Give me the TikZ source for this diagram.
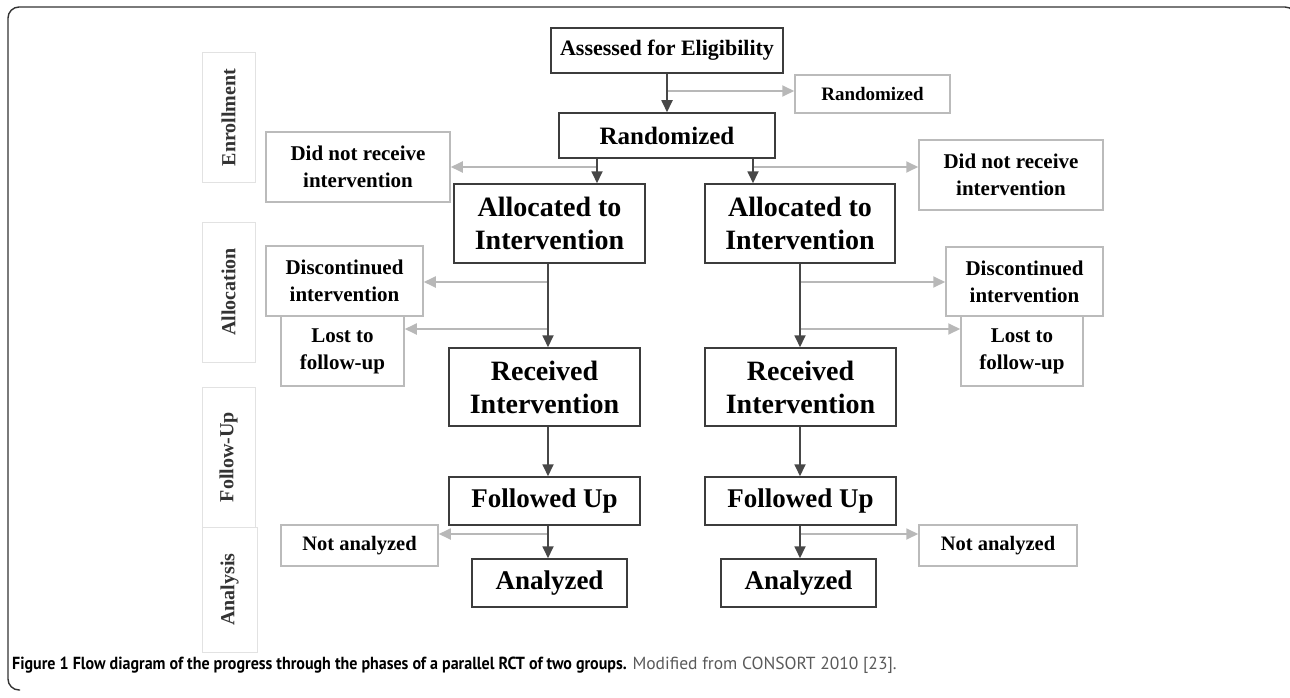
\documentclass[tikz,border=0pt]{standalone}
\usepackage{fontspec}
\setmainfont{Liberation Serif}
\newfontfamily\capfont{PT Sans}
\newfontfamily\capfontb[FakeStretch=0.915]{PT Sans}
\usetikzlibrary{arrows.meta,calc}
\definecolor{darkline}{HTML}{3C3C3C}
\definecolor{grayline}{HTML}{BBBBBB}
\definecolor{phaseline}{HTML}{E2E2E2}
\definecolor{arrdark}{HTML}{474747}
\definecolor{arrgray}{HTML}{B8B8B8}
\definecolor{captgray}{HTML}{5A5A5A}
\definecolor{framecol}{HTML}{333333}
\tikzset{
  mainbox/.style={draw=darkline, line width=1.5pt, fill=white, align=center, inner sep=0pt, font=\bfseries, text=black},
  sidebox/.style={draw=grayline, line width=1.5pt, fill=white, align=center, inner sep=0pt, font=\bfseries\fontsize{21}{27}\selectfont, text=black},
  phasebox/.style={draw=phaseline, line width=1pt, fill=white, inner sep=0pt},
  phasetext/.style={rotate=90, font=\bfseries\fontsize{20}{24}\selectfont, text=black!80},
  darr/.style={draw=arrdark, line width=1.8pt, -{Triangle[length=12pt,width=11pt]}},
  garr/.style={draw=arrgray, line width=1.8pt, -{Triangle[length=12pt,width=11pt]}},
}
\newcommand{\bx}[6]{% style, name, x1, y1, x2, y2
  \node[#1, minimum width={#5-#3}, minimum height={#6-#4}] (#2) at ({(#3+#5)/2},{(#4+#6)/2})}
\begin{document}
\begin{tikzpicture}[x=1pt,y=-1pt]
\useasboundingbox (0,0) rectangle (1290,698);
% frame
\draw[framecol, line width=1.4pt, rounded corners=11pt] (1296,30) -- (1296,7) -- (8,7) -- (8,690) -- (20,690);
% phase boxes
\bx{phasebox}{ph1}{202}{53}{255}{182}{};
\bx{phasebox}{ph2}{202}{222}{255}{362}{};
\bx{phasebox}{ph3}{202}{387}{255}{527}{};
\bx{phasebox}{ph4}{202}{527}{257}{652}{};
\node[phasetext] at (ph1) {Enrollment};
\node[phasetext] at (ph2) {Allocation};
\node[phasetext] at (ph3) {Follow-Up};
\node[phasetext] at (ph4) {Analysis};
% main boxes
\bx{mainbox, font=\bfseries\fontsize{22}{26}\selectfont}{assess}{551}{28}{783}{73}{Assessed for Eligibility};
\bx{mainbox, font=\bfseries\fontsize{25}{30}\selectfont}{rand}{559}{113}{775}{158}{Randomized};
\bx{mainbox, font=\bfseries\fontsize{28}{33}\selectfont}{lalloc}{454}{184}{645}{263}{Allocated to\\Intervention};
\bx{mainbox, font=\bfseries\fontsize{28}{33}\selectfont}{ralloc}{705}{184}{895}{263}{Allocated to\\Intervention};
\bx{mainbox, font=\bfseries\fontsize{28}{33}\selectfont}{lrec}{449}{348}{640}{426}{Received\\Intervention};
\bx{mainbox, font=\bfseries\fontsize{28}{33}\selectfont}{rrec}{705}{348}{896}{426}{Received\\Intervention};
\bx{mainbox, font=\bfseries\fontsize{27}{32}\selectfont}{lfol}{449}{477}{640}{525}{Followed Up};
\bx{mainbox, font=\bfseries\fontsize{27}{32}\selectfont}{rfol}{705}{477}{896}{525}{Followed Up};
\bx{mainbox, font=\bfseries\fontsize{27}{32}\selectfont}{lana}{472}{559}{627}{607}{Analyzed};
\bx{mainbox, font=\bfseries\fontsize{27}{32}\selectfont}{rana}{721}{559}{876}{607}{Analyzed};
% side boxes
\bx{sidebox, font=\bfseries\fontsize{19}{23}\selectfont}{srand}{795}{75}{950}{113}{Randomized};
\bx{sidebox}{ldnr}{266}{132}{450}{202}{Did not receive\\intervention};
\bx{sidebox}{rdnr}{919}{140}{1103}{210}{Did not receive\\intervention};
\bx{sidebox}{ldisc}{266}{246}{423}{316}{Discontinued\\intervention};
\bx{sidebox}{rdisc}{946}{247}{1103}{316}{Discontinued\\intervention};
\bx{sidebox}{llost}{281}{316}{404}{386}{Lost to\\follow-up};
\bx{sidebox}{rlost}{961}{316}{1083}{386}{Lost to\\follow-up};
\bx{sidebox, font=\bfseries\fontsize{20.5}{24}\selectfont}{lnot}{281}{525}{438}{566}{Not analyzed};
\bx{sidebox, font=\bfseries\fontsize{20.5}{24}\selectfont}{rnot}{919}{525}{1077}{566}{Not analyzed};
% branch points
\coordinate (b0) at (667,91);
\coordinate (bl1) at (597,167);
\coordinate (br1) at (753,167);
\coordinate (bl2) at (548,282);
\coordinate (bl3) at (548,329);
\coordinate (br2) at (800,282);
\coordinate (br3) at (800,329);
\coordinate (bl4) at (548,534);
\coordinate (br4) at (800,534);
% gray arrows
\draw[garr] (b0) -- (b0 -| srand.west);
\draw[garr] (bl1) -- (bl1 -| ldnr.east);
\draw[garr] (br1) -- (br1 -| rdnr.west);
\draw[garr] (bl2) -- (bl2 -| ldisc.east);
\draw[garr] (bl3) -- (bl3 -| llost.east);
\draw[garr] (br2) -- (br2 -| rdisc.west);
\draw[garr] (br3) -- (br3 -| rlost.west);
\draw[garr] (bl4) -- (bl4 -| lnot.east);
\draw[garr] (br4) -- (br4 -| rnot.west);
% dark arrows
\draw[darr] (assess.south) -- (rand.north);
\draw[darr] (rand.south -| bl1) -- (lalloc.north -| bl1);
\draw[darr] (rand.south -| br1) -- (ralloc.north -| br1);
\draw[darr] (lalloc.south -| bl2) -- (lrec.north -| bl2);
\draw[darr] (ralloc.south -| br2) -- (rrec.north -| br2);
\draw[darr] (lrec.south -| bl2) -- (lfol.north -| bl2);
\draw[darr] (rrec.south -| br2) -- (rfol.north -| br2);
\draw[darr] (lfol.south -| bl4) -- (lana.north -| bl4);
\draw[darr] (rfol.south -| br4) -- (rana.north -| br4);
% caption
\node[anchor=base west, inner sep=0pt] (cap) at (12,669)
  {\capfontb\fontsize{17.5}{20}\selectfont\textbf{Figure 1 Flow diagram of the progress through the phases of a parallel RCT of two groups.} \capfont\fontsize{17.5}{20}\selectfont\textcolor{captgray}{Modified from CONSORT 2010 [23].}};
\end{tikzpicture}
\end{document}
